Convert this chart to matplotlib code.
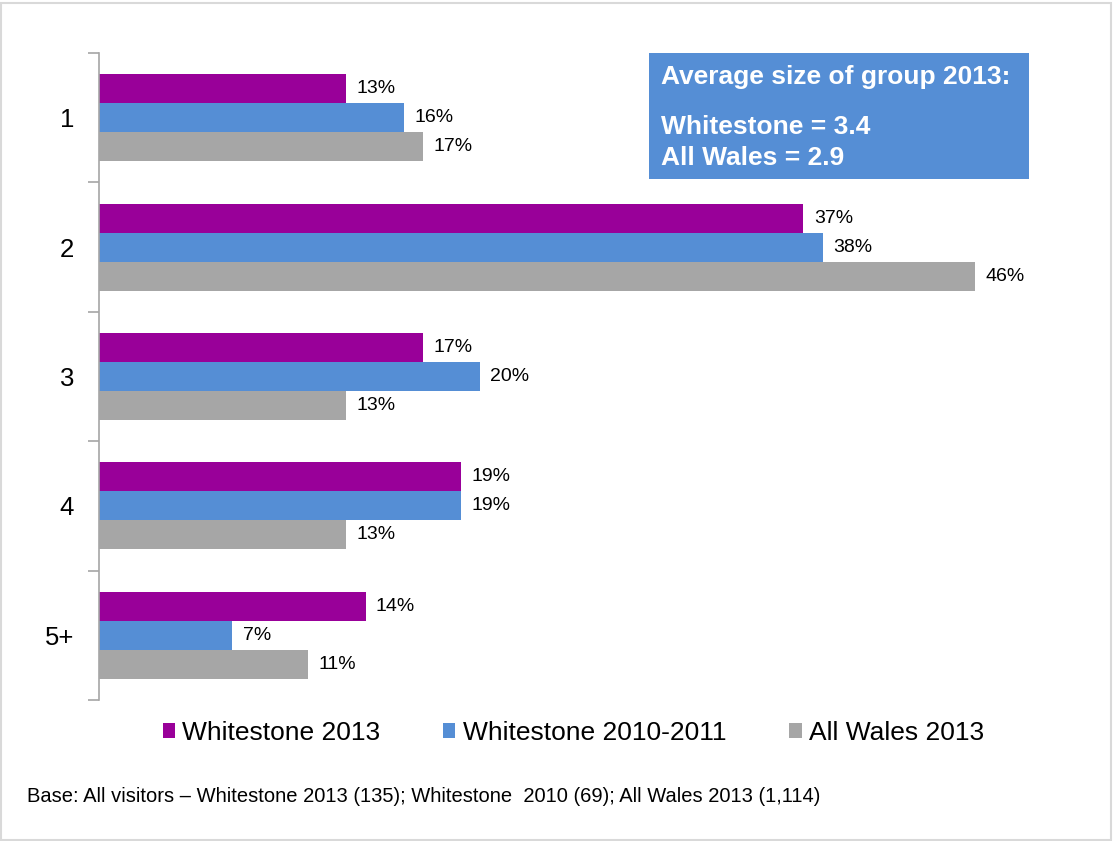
import numpy as np
import matplotlib.pyplot as plt
from matplotlib.patches import Rectangle

plt.rcParams['font.family'] = ['Liberation Sans', 'DejaVu Sans']

# --- Data ---
groups = ['1', '2', '3', '4', '5+']
ws_2013 = [13, 37, 17, 19, 14]
ws_2010 = [16, 38, 20, 19, 7]
wales_2013 = [17, 46, 13, 13, 11]
series_names = ['Whitestone 2013', 'Whitestone 2010-2011', 'All Wales 2013']
colors = ['#990099', '#558ED5', '#A6A6A6']

# --- Figure ---
fig = plt.figure(figsize=(11.13, 8.41), dpi=100)
ax = fig.add_axes([0.0889, 0.1677, 0.8554, 0.7693])

y = np.arange(len(groups))
h = 0.224
for k, (vals, name, col) in enumerate(zip([ws_2013, ws_2010, wales_2013], series_names, colors)):
    pos = y + (k - 1) * h
    ax.barh(pos, vals, height=h, color=col, label=name, edgecolor='none')
    for p, v in zip(pos, vals):
        ax.text(v + 0.55, p, f'{v}%', va='center', ha='left', fontsize=14, color='black')

ax.set_xlim(0, 50)
ax.set_ylim(len(groups) - 0.5, -0.5)
ax.set_yticks(y)
ax.set_yticklabels(groups, fontsize=18.5)
ax.set_yticks(np.arange(-0.5, len(groups)), minor=True)
ax.tick_params(axis='y', which='major', length=0, pad=18)
ax.tick_params(axis='y', which='minor', length=8, width=1.2, color='#A6A6A6', direction='out')
ax.set_xticks([])
for s in ['top', 'right', 'bottom']:
    ax.spines[s].set_visible(False)
ax.spines['left'].set_color('#A6A6A6')
ax.spines['left'].set_linewidth(1.2)

# Info box with average group size
fig.patches.append(Rectangle((649 / 1113, 1 - 179 / 841), 380 / 1113, 126 / 841,
                             transform=fig.transFigure, facecolor='#558ED5',
                             edgecolor='none', zorder=5))
box_lines = [('Average size of group 2013:', 77), ('Whitestone = 3.4', 127), ('All Wales = 2.9', 158)]
for txt, ypix in box_lines:
    fig.text(661 / 1113, 1 - ypix / 841, txt, color='white', fontsize=19,
             fontweight='bold', va='center', ha='left', zorder=6)

# Legend
fig.legend(loc='center', bbox_to_anchor=(0.515, 1 - 733 / 841), ncol=3, frameon=False,
           fontsize=19, handlelength=0.46, handleheight=0.46, handletextpad=0.27,
           columnspacing=2.4)

fig.text(27 / 1113, 1 - 797 / 841,
         'Base: All visitors \u2013 Whitestone 2013 (135); Whitestone  2010 (69); All Wales 2013 (1,114)',
         fontsize=14.5, va='center', ha='left')

# Outer border
fig.patches.append(Rectangle((0.001, 0.001), 0.997, 0.996, transform=fig.transFigure,
                             facecolor='none', edgecolor='#D9D9D9', linewidth=1.5))

fig.savefig('out.png', dpi=100)
